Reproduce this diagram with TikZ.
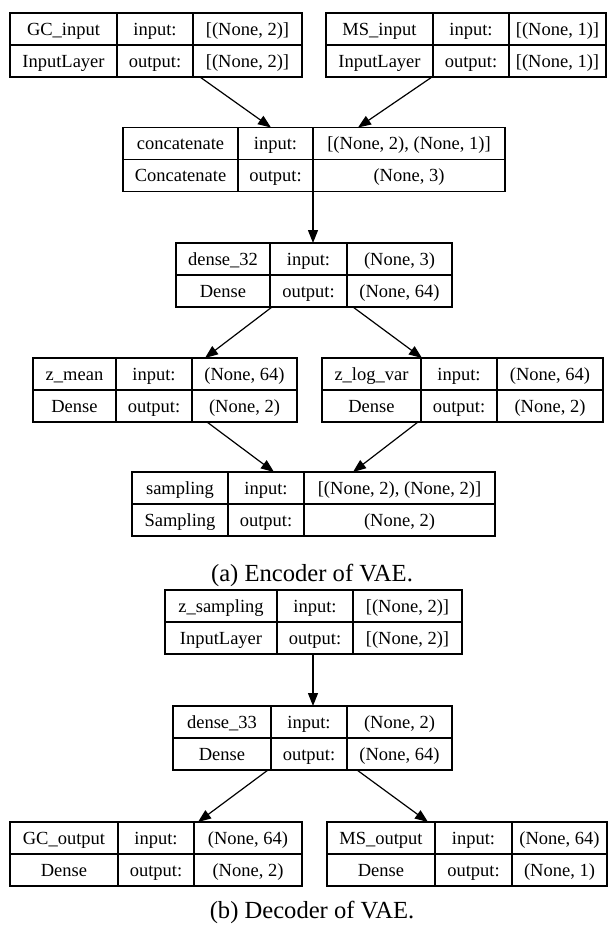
\documentclass[tikz,border=0pt]{standalone}
\usepackage{fontspec}
\setmainfont{Liberation Serif}
\usetikzlibrary{arrows.meta}

\tikzset{
  cell/.style={draw, line width=1.2pt, inner sep=0pt, outer sep=0pt,
    minimum height=32pt, anchor=north west, text height=16pt, text depth=4pt,
    font=\fontsize{18.5}{20}\selectfont},
  frame/.style={inner sep=0pt, outer sep=0pt, minimum height=64pt, anchor=north west},
  link/.style={line width=1.2pt, -{Triangle[length=13pt,width=10pt]}},
  caption/.style={inner sep=0pt, font=\fontsize{24.6}{28}\selectfont}
}

% shapes shown in the right column of the next layer box
\newcommand\shapes[2]{\def\inshape{#1}\def\outshape{#2}}
% #1 name, #2 left, #3 first divider, #4 second divider, #5 right, #6 top,
% #7 layer name, #8 layer class
\newcommand\layerbox[8]{%
  \pgfmathsetmacro\wa{#3-#2}%
  \pgfmathsetmacro\wb{#4-#3}%
  \pgfmathsetmacro\wc{#5-#4}%
  \pgfmathsetmacro\wall{#5-#2}%
  \node[frame, minimum width=\wall pt] (#1) at (#2,#6) {};
  \node[cell, minimum width=\wa pt] (#1-name)  at (#2,#6) {#7};
  \node[cell, minimum width=\wa pt] (#1-class) at (#2,#6+32) {#8};
  \node[cell, minimum width=\wb pt] (#1-inl)   at (#3,#6) {input:};
  \node[cell, minimum width=\wb pt] (#1-outl)  at (#3,#6+32) {output:};
  \node[cell, minimum width=\wc pt] (#1-ins)   at (#4,#6) {\inshape};
  \node[cell, minimum width=\wc pt] (#1-outs)  at (#4,#6+32) {\outshape};
}

\begin{document}
\begin{tikzpicture}[x=1pt,y=-1pt]
\useasboundingbox (0,0) rectangle (608,930);
\fill[white] (0,0) rectangle (608,930);

% ---------- encoder ----------
\shapes{[(None, 2)]}{[(None, 2)]}
\layerbox{gcin}{10}{117}{193}{302}{13}{GC\_input}{InputLayer}
\shapes{[(None, 1)]}{[(None, 1)]}
\layerbox{msin}{326}{433}{509}{606}{13}{MS\_input}{InputLayer}
\shapes{[(None, 2), (None, 1)]}{(None, 3)}
\layerbox{concat}{123}{238}{313}{505}{127.5}{concatenate}{Concatenate}
\shapes{(None, 3)}{(None, 64)}
\layerbox{dense32}{176}{270}{347}{452}{243}{dense\_32}{Dense}
\shapes{(None, 64)}{(None, 2)}
\layerbox{zmean}{33}{116}{192}{297}{358}{z\_mean}{Dense}
\shapes{(None, 64)}{(None, 2)}
\layerbox{zlogvar}{322}{421}{497}{603}{358}{z\_log\_var}{Dense}
\shapes{[(None, 2), (None, 2)]}{(None, 2)}
\layerbox{sampling}{132}{228}{304}{495}{472}{sampling}{Sampling}

\node[caption] (capa) at (312,575) {(a) Encoder of VAE.};

% ---------- decoder ----------
\shapes{[(None, 2)]}{[(None, 2)]}
\layerbox{zsamp}{165}{277}{353}{462}{590}{z\_sampling}{InputLayer}
\shapes{(None, 2)}{(None, 64)}
\layerbox{dense33}{173}{271}{347}{452}{706}{dense\_33}{Dense}
\shapes{(None, 64)}{(None, 2)}
\layerbox{gcout}{10}{118}{194}{302}{822}{GC\_output}{Dense}
\shapes{(None, 64)}{(None, 1)}
\layerbox{msout}{327}{435}{512}{607}{822}{MS\_output}{Dense}

\node[caption] (capb) at (312,912) {(b) Decoder of VAE.};

% ---------- connections ----------
\draw[link] ([xshift=190pt]gcin.south west) -- ([xshift=148pt]concat.north west);
\draw[link] ([xshift=106pt]msin.south west) -- ([xshift=235pt]concat.north west);
\draw[link] ([xshift=190pt]concat.south west) -- ([xshift=137pt]dense32.north west);
\draw[link] ([xshift=96pt]dense32.south west) -- ([xshift=172pt]zmean.north west);
\draw[link] ([xshift=177pt]dense32.south west) -- ([xshift=100pt]zlogvar.north west);
\draw[link] ([xshift=174pt]zmean.south west) -- ([xshift=142pt]sampling.north west);
\draw[link] ([xshift=96pt]zlogvar.south west) -- ([xshift=221pt]sampling.north west);
\draw[link] ([xshift=148pt]zsamp.south west) -- ([xshift=140pt]dense33.north west);
\draw[link] ([xshift=95pt]dense33.south west) -- ([xshift=188pt]gcout.north west);
\draw[link] ([xshift=184pt]dense33.south west) -- ([xshift=101pt]msout.north west);
\end{tikzpicture}
\end{document}
